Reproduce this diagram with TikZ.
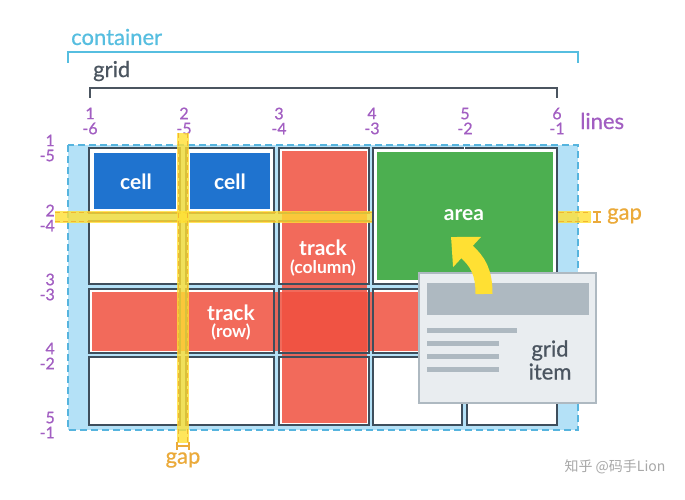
\documentclass[tikz,border=0pt]{standalone}
\usepackage{fontspec}
\setmainfont{Lato}
\newfontfamily\medfont{Lato}[FakeBold=0.6]
\newfontfamily\cjkfont{Noto Sans CJK SC}
\usetikzlibrary{arrows.meta}
\definecolor{cyanC}{HTML}{56BEE0}
\definecolor{darkC}{HTML}{4B5560}
\definecolor{cellline}{HTML}{3E4E5C}
\definecolor{purpleC}{HTML}{A25EC2}
\definecolor{blueC}{HTML}{1F73CF}
\definecolor{redC}{HTML}{F0503F}
\definecolor{greenC}{HTML}{4CAF50}
\definecolor{lightblue}{HTML}{B4E1F7}
\definecolor{dashblue}{HTML}{56B4DE}
\definecolor{yellowC}{HTML}{FFE033}
\definecolor{yedge}{HTML}{F2B630}
\definecolor{gapC}{HTML}{EBAA3A}
\definecolor{itemfill}{HTML}{E9EDF0}
\definecolor{itemline}{HTML}{AEB9C1}
\definecolor{wmC}{HTML}{A8A8A8}
\begin{document}
\begin{tikzpicture}[x=1pt,y=-1pt,
  bigtext/.style={font=\medfont\fontsize{22}{25}\selectfont, inner sep=0pt},
  num/.style={font=\medfont\fontsize{16}{15}\selectfont, text=purpleC, inner sep=1pt},
  celltext/.style={font=\bfseries\fontsize{21}{24}\selectfont, text=white, inner sep=0pt},
  smalltext/.style={font=\bfseries\fontsize{17.5}{20}\selectfont, text=white, inner sep=0pt},
  cellstroke/.style={draw=cellline, line width=2.2pt},
  redtrack/.style={fill=redC, fill opacity=0.85},
  band/.style={fill=yellowC, fill opacity=0.8},
  bandedge/.style={draw=yedge, line width=1.2pt, dash pattern=on 5pt off 3pt},
  marker/.style={draw=gapC, line width=1.3pt},
  bar/.style={fill=itemline}]
\useasboundingbox (0,0) rectangle (685,500);
\fill[white] (0,0) rectangle (685,500);

% labels at top
\node[bigtext, text=cyanC, anchor=west] (container) at (71,37) {container};
\draw[cyanC, line width=2pt] (68,63) -- (68,52) -- (578,52) -- (578,63);
\node[bigtext, text=darkC, anchor=west] (grid) at (93,71) {grid};
\draw[darkC, line width=2pt] (90,98) -- (90,88) -- (557,88) -- (557,98);

% line numbers
\node[num, align=center] (c1) at (90,121) {1\\-6};
\node[num, align=center] (c2) at (184,121) {2\\-5};
\node[num, align=center] (c3) at (279,121) {3\\-4};
\node[num, align=center] (c4) at (372,121) {4\\-3};
\node[num, align=center] (c5) at (465,121) {5\\-2};
\node[num, align=center] (c6) at (557,121) {6\\-1};
\node[bigtext, text=purpleC, anchor=west] (lines) at (580,121) {lines};
\node[num, align=right, anchor=east] (r1) at (56,148) {1\\-5};
\node[num, align=right, anchor=east] (r2) at (56,218) {2\\-4};
\node[num, align=right, anchor=east] (r3) at (56,287) {3\\-3};
\node[num, align=right, anchor=east] (r4) at (56,356) {4\\-2};
\node[num, align=right, anchor=east] (r5) at (56,425) {5\\-1};

% container
\fill[lightblue] (68,145) rectangle (578,430);
\draw[dashblue, line width=1.5pt, dash pattern=on 7pt off 4pt] (68,145) rectangle (578,430);

% cells
\foreach \xa/\xb in {89/180,186/274,279/369,373/462,467/557}
  \foreach \ya/\yb in {148/213,221/284,289/353,357/425}
    {\fill[white] (\xa,\ya) rectangle (\xb,\yb);}
% tracks
\fill[redtrack] (281.5,150.5) rectangle (366.5,422.5);
\fill[redtrack] (91.5,291.5) rectangle (555,350.5);
\foreach \xa/\xb in {89/180,186/274,279/369,373/462,467/557}
  \foreach \ya/\yb in {148/213,221/284,289/353,357/425}
    {\draw[cellstroke] (\xa,\ya) rectangle (\xb,\yb);}
% blue cells
\fill[blueC] (94,153) rectangle (176,209);
\fill[blueC] (190,153) rectangle (270,209);

% horizontal gap band
\fill[band] (55,211) rectangle (591,223);
\draw[bandedge] (55,212.5) -- (591,212.5);
\draw[bandedge] (55,221.5) -- (591,221.5);

% area
\filldraw[fill=white, cellstroke] (373,148) rectangle (557,284);
\fill[greenC] (377,152) rectangle (553,280);
\draw[white, line width=1.5pt] (464.5,147) -- (464.5,151);

% vertical gap band
\fill[band] (177,133) rectangle (189,443);
\draw[bandedge] (178.5,133) -- (178.5,443);
\draw[bandedge] (187.5,133) -- (187.5,443);

% gap markers
\draw[marker] (177,442) -- (177,450) (189,442) -- (189,450) (177,446) -- (189,446);
\draw[marker] (593,212) -- (601,212) (593,222) -- (601,222) (597,212) -- (597,222);
\node[bigtext, text=gapC] (gapv) at (183,460) {gap};
\node[bigtext, text=gapC, anchor=west] (gaph) at (607,216) {gap};

% texts in cells
\node[celltext] (cell1) at (136,182) {cell};
\node[celltext] (cell2) at (230,182) {cell};
\node[celltext] (area) at (464,215) {area};
\node[celltext] (trackc) at (323,248) {track};
\node[smalltext] (trackcs) at (323,268) {(column)};
\node[celltext] (trackr) at (231,313) {track};
\node[smalltext] (trackrs) at (231,332) {(row)};

% grid item
\filldraw[fill=itemfill, draw=itemline, line width=2pt] (419,273) rectangle (596,403);
\fill[bar] (427,283) rectangle (589,315);
\fill[bar] (427,328) rectangle (517,333);
\fill[bar] (427,341) rectangle (499,346);
\fill[bar] (427,354) rectangle (499,359);
\fill[bar] (427,367) rectangle (499,372);
\node[bigtext, text=darkC, align=center, font=\medfont\fontsize{22}{23}\selectfont] (item) at (550,360) {grid\\item};

% arrow
\coordinate (arrS) at (484,294);
\coordinate (arrE) at (451,237);
\draw[yellowC, line width=17pt, -{Triangle[length=22pt,width=40pt]}] (arrS) .. controls (484,272) and (478,262) .. (arrE);

% watermark
\node[font=\cjkfont\fontsize{14}{16}\selectfont, text=wmC] (wm) at (615,467) {知乎 @码手Lion};
\end{tikzpicture}
\end{document}
